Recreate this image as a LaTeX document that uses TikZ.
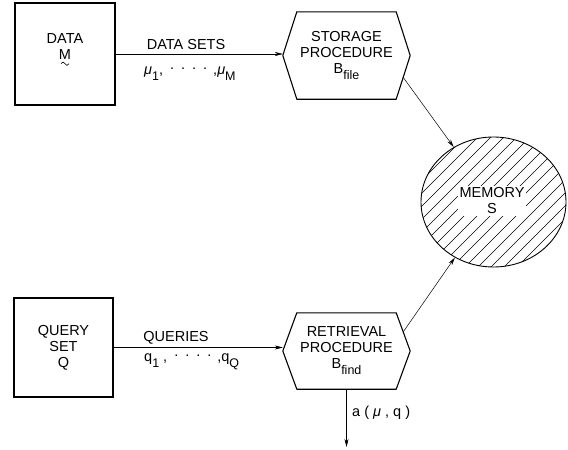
\documentclass[tikz,border=0pt]{standalone}
\usepackage{fontspec}
\setmainfont{Liberation Sans}
\usetikzlibrary{arrows.meta,shapes.geometric,calc}

% lowered subscript as hand-lettered
\newcommand{\lowsub}[1]{\raisebox{-6pt}{\fontsize{12.5}{12.5}\selectfont #1}}
% row of raised dots between list items
\newcommand{\rdots}{\hspace{7pt}\raisebox{5pt}{.}\hspace{7pt}\raisebox{5pt}{.}\hspace{7pt}\raisebox{5pt}{.}\hspace{7pt}\raisebox{5pt}{.}\hspace{6pt}}

\begin{document}
\begin{tikzpicture}[x=1pt,y=-1pt,
  every node/.style={font=\fontsize{14.5}{16}\selectfont},
  srcbox/.style={draw, line width=1.1pt, align=center, inner sep=0pt},
  hexframe/.style={minimum width=127pt, inner sep=0pt, align=center},
  hexline/.style={draw, line width=1.1pt, line join=round},
  flow/.style={line width=0.5pt, -{Stealth[length=8pt,width=4pt]}},
  lbl/.style={inner sep=0pt},
  hatch/.style={line width=0.5pt}
]
\useasboundingbox (0,0) rectangle (568,450);

% source boxes
\node[srcbox, minimum width=100pt, minimum height=102pt] (data) at (65,54) {};
\node[align=center, inner sep=0pt] (datatxt) at (65,47) {DATA\\M};
% tilde under the M (vector mark)
\draw[line width=0.6pt] ([shift={(-4,3.5)}]datatxt.south)
  sin ([shift={(-2,1.8)}]datatxt.south) cos ([shift={(0,3.5)}]datatxt.south)
  sin ([shift={(2,5.2)}]datatxt.south) cos ([shift={(4,3.5)}]datatxt.south);
\node[srcbox, minimum width=99pt, minimum height=99pt] (query) at (63.5,347.5)
  {QUERY\\SET\\Q};

% procedures (hexagonal outlines drawn from the node anchors)
\node[hexframe, minimum height=87pt] (store) at (346.5,55.5)
  {STORAGE\\PROCEDURE\\B\lowsub{file}};
\node[hexframe, minimum height=76pt] (retr) at (346.5,351)
  {RETRIEVAL\\PROCEDURE\\B\lowsub{find}};
\foreach \h in {store,retr}
  \draw[hexline] (\h.west) -- ([xshift=14pt]\h.north west)
    -- ([xshift=-14pt]\h.north east) -- (\h.east)
    -- ([xshift=-14pt]\h.south east) -- ([xshift=14pt]\h.south west) -- cycle;

% memory, hatched
\node[draw, ellipse, line width=0.9pt, minimum width=145pt, minimum height=130pt,
      inner sep=0pt] (mem) at (493.5,202) {};
\begin{scope}
  \clip (mem.center) ellipse [x radius=72.5pt, y radius=65pt];
  \foreach \k in {550,563,...,850}
    \draw[hatch] (\k-100,100) -- (\k-300,300);
\end{scope}
\node[fill=white, inner sep=2pt, align=center] (memtxt) at (492,201) {MEMORY\\S};

% flow labels
\node[lbl] (dsets) at (186,45) {DATA SETS};
\node[lbl, anchor=west] (mus) at (144,74)
  {\textit{μ}\lowsub{1},\rdots,\textit{μ}\lowsub{M}};
\node[lbl] (queries) at (176,338) {QUERIES};
\node[lbl, anchor=west] (qs) at (144,362)
  {q\lowsub{1} ,\rdots,q\lowsub{Q}};
\node[lbl, anchor=west] (ans) at (352,413) {a ( \textit{μ} , q )};

% connectors
\draw[flow] (data.east) -- (data.east -| store.west);
\draw[flow] (query.east) -- (query.east -| retr.west);
\coordinate (s1) at ($(store.east)!0.5!([xshift=-14pt]store.south east)$);
\coordinate (r1) at ($(retr.east)!0.5!([xshift=-14pt]retr.north east)$);
\draw[flow] (s1) -- (mem);
\draw[flow] (r1) -- (mem);
\coordinate (out) at (346.5,447);
\draw[flow] (retr.south) -- (out);
\end{tikzpicture}
\end{document}
